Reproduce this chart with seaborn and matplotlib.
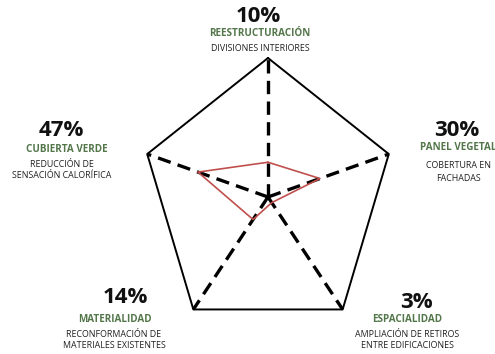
import numpy as np
import matplotlib
matplotlib.use("Agg")
import matplotlib.pyplot as plt
import seaborn as sns
import pandas as pd

# ---- data (clockwise from top) ----
categories = ["REESTRUCTURACIÓN", "PANEL VEGETAL", "ESPACIALIDAD", "MATERIALIDAD", "CUBIERTA VERDE"]
percent_labels = ["10%", "30%", "3%", "14%", "47%"]
descriptions = [
    ["DIVISIONES INTERIORES"],
    ["COBERTURA EN", "FACHADAS"],
    ["AMPLIACIÓN DE RETIROS", "ENTRE EDIFICACIONES"],
    ["RECONFORMACIÓN DE", "MATERIALES EXISTENTES"],
    ["REDUCCIÓN DE", "SENSACIÓN CALORÍFICA"],
]
radar_values = [25, 43, 5, 20, 58]   # plotted radius on a 0-100 scale
scale_max = 100

sns.set_theme(style="white")
plt.rcParams["font.family"] = ["Open Sans", "DejaVu Sans"]

W, H = 495, 354
fig = plt.figure(figsize=(W / 100, H / 100), dpi=100)
ax = fig.add_axes([0, 0, 1, 1])
cx, cy, sx, sy = 268, 197, 127, 139
ax.set_xlim(-cx / sx, (W - cx) / sx)
ax.set_ylim((cy - H) / sy, cy / sy)
ax.axis("off")

n = len(categories)
theta = np.deg2rad(90 - 72 * np.arange(n))

# outer pentagon
outer = pd.DataFrame({"x": np.append(np.cos(theta), np.cos(theta[0])),
                      "y": np.append(np.sin(theta), np.sin(theta[0]))})
sns.lineplot(data=outer, x="x", y="y", sort=False, estimator=None,
             color="black", linewidth=1.4, ax=ax, zorder=2)

# dashed spokes
for t in theta:
    ax.plot([0, np.cos(t)], [0, np.sin(t)], color="black", linewidth=2.4,
            linestyle=(0, (4, 2.2)), solid_capstyle="butt", dash_capstyle="butt", zorder=1)

# data polygon
r = np.array(radar_values) / scale_max
poly = pd.DataFrame({"x": np.append(r * np.cos(theta), r[0] * np.cos(theta[0])),
                     "y": np.append(r * np.sin(theta), r[0] * np.sin(theta[0]))})
sns.lineplot(data=poly, x="x", y="y", sort=False, estimator=None,
             color="#c0504d", linewidth=1.2, ax=ax, zorder=3)

# ---- annotations (pixel layout: centre x, baselines) ----
green = "#53774a"
layout = [
    # (pct_x, pct_base, label_x, label_base, desc_x, desc_bases)
    (258, 22, 260, 36, 260, [51]),
    (457, 136, 458, 150, 458, [168, 181]),
    (416, 308, 407, 322, 407, [337, 348]),
    (125, 303, 115, 322, 114, [337, 348]),
    (61, 136, 67, 152, 62, [167, 178]),
]

def fx(px):
    return px / W

def fy(py):
    return 1 - py / H

for i in range(n):
    px, pb, lx, lb, dx, dbs = layout[i]
    fig.text(fx(px), fy(pb), percent_labels[i], ha="center", va="baseline",
             fontsize=16, fontweight="bold", color="#111111")
    fig.text(fx(lx), fy(lb), categories[i], ha="center", va="baseline",
             fontsize=7.1, fontweight="bold", color=green)
    for line, db in zip(descriptions[i], dbs):
        fig.text(fx(dx), fy(db), line, ha="center", va="baseline",
                 fontsize=6.4, color="#222222")

fig.savefig("out.png", dpi=100)
